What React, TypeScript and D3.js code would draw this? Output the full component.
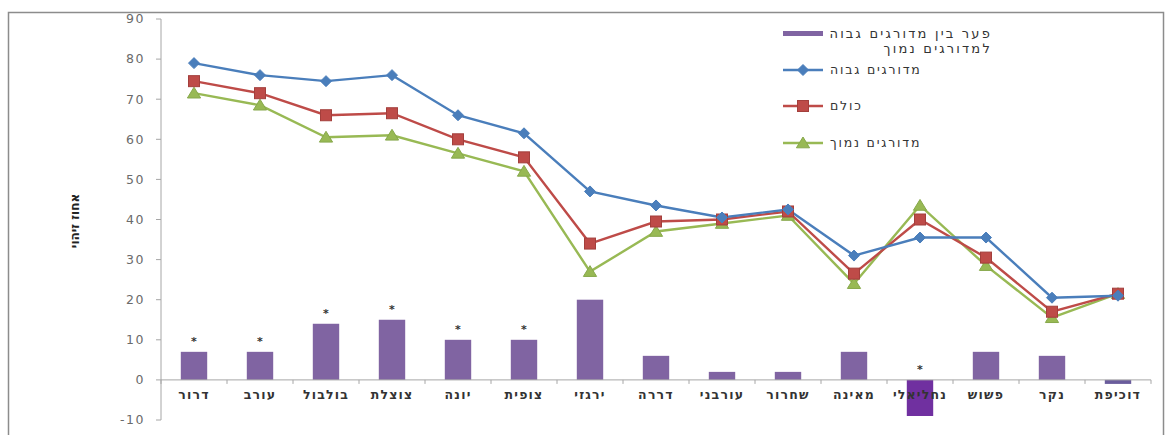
import React from "react";
import * as d3 from "d3";

// Bird species, drawn left to right
const categories = [
  "דרור", "עורב", "בולבול", "צוצלת", "יונה", "צופית", "ירגזי", "דררה",
  "עורבני", "שחרור", "מאינה", "נחליאלי", "פשוש", "נקר", "דוכיפת",
];

// Identification rate, high-ranked respondents
const highRanked = [79, 76, 74.5, 76, 66, 61.5, 47, 43.5, 40.5, 42.5, 31, 35.5, 35.5, 20.5, 21];
// Identification rate, all respondents
const allRespondents = [74.5, 71.5, 66, 66.5, 60, 55.5, 34, 39.5, 40, 42, 26.5, 40, 30.5, 17, 21.5];
// Identification rate, low-ranked respondents
const lowRanked = [71.5, 68.5, 60.5, 61, 56.5, 52, 27, 37, 39, 41, 24, 43.5, 28.5, 15.5, 21.5];
// Gap between high- and low-ranked respondents
const gap = [7, 7, 14, 15, 10, 10, 20, 6, 2, 2, 7, -9, 7, 6, -1];
// Species whose gap is statistically significant
const significant = ["דרור", "עורב", "בולבול", "צוצלת", "יונה", "צופית", "נחליאלי"];

const yTicks = [-10, 0, 10, 20, 30, 40, 50, 60, 70, 80, 90];

const legendGap = ["פער בין מדורגים גבוה", "למדורגים נמוך"];
const legendHigh = "מדורגים גבוה";
const legendAll = "כולם";
const legendLow = "מדורגים נמוך";
const yTitle = "אחוז זיהוי";

const W = 1170;
const H = 435;
const axisX = 161;
const axisRight = 1151;

const BLUE = "#4A7EBB";
const RED = "#BE4B48";
const GREEN = "#98B954";
const PURPLE = "#8064A2";
const PURPLE_DARK = "#7030A0";

const font = "'DejaVu Sans', Verdana, sans-serif";

function Diamond({ cx, cy, r, fill }: { cx: number; cy: number; r: number; fill: string }) {
  return (
    <path
      d={`M${cx},${cy - r}L${cx + r},${cy}L${cx},${cy + r}L${cx - r},${cy}Z`}
      fill={fill}
      stroke={fill}
      strokeWidth={1}
    />
  );
}

function Square({ cx, cy, r, fill }: { cx: number; cy: number; r: number; fill: string }) {
  return <rect x={cx - r} y={cy - r} width={2 * r} height={2 * r} fill={fill} stroke="#A33F3C" strokeWidth={1} />;
}

function Triangle({ cx, cy, r, fill }: { cx: number; cy: number; r: number; fill: string }) {
  return (
    <path
      d={`M${cx},${cy - r}L${cx + r * 1.1},${cy + r * 0.8}L${cx - r * 1.1},${cy + r * 0.8}Z`}
      fill={fill}
      stroke="#86A84A"
      strokeWidth={1}
    />
  );
}

export default function App() {
  const y = d3.scaleLinear().domain([-10, 90]).range([420, 19]);
  const x = d3
    .scaleBand<string>()
    .domain(categories)
    .range([axisX, axisRight])
    .paddingInner(0.6)
    .paddingOuter(0.3);
  const cx = (c: string) => (x(c) ?? 0) + x.bandwidth() / 2;
  const step = x.step();

  const line = d3
    .line<number>()
    .x((_, i) => cx(categories[i]))
    .y((d) => y(d));

  const series = [
    { values: lowRanked, color: GREEN, marker: "tri" },
    { values: allRespondents, color: RED, marker: "sq" },
    { values: highRanked, color: BLUE, marker: "dia" },
  ];

  const renderMarker = (kind: string, px: number, py: number, color: string, key: string) => {
    if (kind === "dia") return <Diamond key={key} cx={px} cy={py} r={5.5} fill={color} />;
    if (kind === "sq") return <Square key={key} cx={px} cy={py} r={5.5} fill={color} />;
    return <Triangle key={key} cx={px} cy={py} r={6} fill={color} />;
  };

  const legendRows = [
    { label: legendHigh, color: BLUE, marker: "dia", y: 70 },
    { label: legendAll, color: RED, marker: "sq", y: 106 },
    { label: legendLow, color: GREEN, marker: "tri", y: 143 },
  ];

  return (
    <svg
      width={W}
      height={H}
      style={{ position: "absolute", left: 0, top: 0, background: "#fff" }}
      fontFamily={font}
    >
      {/* chart frame */}
      <rect x={8.5} y={12.5} width={1155} height={430} fill="none" stroke="#8C8C8C" strokeWidth={1.5} />

      {/* y axis */}
      <line x1={axisX} x2={axisX} y1={y(90)} y2={y(-10)} stroke="#A6A6A6" strokeWidth={1} />
      {yTicks.map((t) => (
        <g key={t}>
          <line x1={axisX - 5} x2={axisX} y1={y(t)} y2={y(t)} stroke="#A6A6A6" />
          <text
            x={145}
            y={y(t)}
            dy="0.35em"
            textAnchor="end"
            fontSize={12.5}
            fill="#6B6B6B"
            letterSpacing={1.5}
          >
            {t}
          </text>
        </g>
      ))}

      {/* y title */}
      <text
        transform={`translate(75,221) rotate(-90)`}
        textAnchor="middle"
        dy="0.35em"
        fontSize={12}
        fontWeight="bold"
        fill="#222"
      >
        {yTitle}
      </text>

      {/* gap bars */}
      {categories.map((c, i) => {
        const v = gap[i];
        const top = y(Math.max(0, v));
        const bottom = y(Math.min(0, v));
        const fill = c === "נחליאלי" ? PURPLE_DARK : c === "דוכיפת" ? "#6A5C9C" : PURPLE;
        return (
          <rect key={c} x={x(c)} y={top} width={x.bandwidth()} height={bottom - top} fill={fill} />
        );
      })}

      {/* x axis */}
      <line x1={axisX} x2={axisRight} y1={y(0)} y2={y(0)} stroke="#A6A6A6" strokeWidth={1} />
      {d3.range(categories.length + 1).map((k) => (
        <line
          key={k}
          x1={axisX + k * step}
          x2={axisX + k * step}
          y1={y(0)}
          y2={y(0) + 4}
          stroke="#A6A6A6"
        />
      ))}

      {/* significance stars */}
      {categories.map((c, i) =>
        significant.includes(c) ? (
          <text
            key={c}
            x={cx(c)}
            y={y(Math.max(0, gap[i])) - 7}
            textAnchor="middle"
            fontSize={11}
            fontWeight="bold"
            fill="#333"
          >
            *
          </text>
        ) : null
      )}

      {/* category labels */}
      {categories.map((c) => (
        <text
          key={c}
          x={cx(c)}
          y={y(0) + 19}
          textAnchor="middle"
          fontSize={12.5}
          fontWeight="bold"
          fill="#333"
          letterSpacing={1.2}
        >
          {c}
        </text>
      ))}

      {/* lines */}
      {series.map((s) => (
        <path key={s.color} d={line(s.values) ?? ""} fill="none" stroke={s.color} strokeWidth={2.4} />
      ))}
      {series.map((s) =>
        s.values.map((v, i) => renderMarker(s.marker, cx(categories[i]), y(v), s.color, `${s.color}-${i}`))
      )}

      {/* legend */}
      <rect x={783} y={31} width={40} height={5} fill={PURPLE} />
      <text x={992} y={38} fontSize={13} fill="#333" textAnchor="end" letterSpacing={2.2}>
        {legendGap[0]}
      </text>
      <text x={992} y={53} fontSize={13} fill="#333" textAnchor="end" letterSpacing={2.2}>
        {legendGap[1]}
      </text>
      {legendRows.map((r) => (
        <g key={r.label}>
          <line x1={783} x2={823} y1={r.y} y2={r.y} stroke={r.color} strokeWidth={2.4} />
          {renderMarker(r.marker, 803, r.y, r.color, r.label)}
          <text x={830} y={r.y} dy="0.35em" fontSize={12.5} fill="#333" letterSpacing={1.8}>
            {r.label}
          </text>
        </g>
      ))}
    </svg>
  );
}
